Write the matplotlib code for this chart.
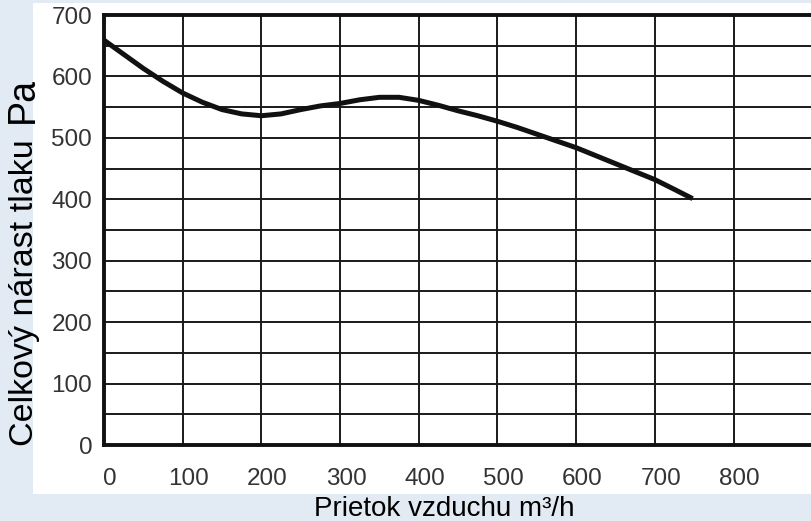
import matplotlib
matplotlib.use("Agg")
import matplotlib.pyplot as plt
import matplotlib.transforms as mtransforms
from matplotlib.patches import Rectangle

# curve: air flow (m3/h) vs total pressure rise (Pa)
flow = [0, 25, 50, 75, 100, 125, 150, 175, 200, 225, 250, 275, 300, 325,
        350, 375, 400, 425, 450, 475, 500, 525, 550, 575, 600, 625, 650,
        675, 700, 725, 748]
pressure = [659, 636, 613, 592, 573, 558, 546, 539, 536, 539, 546, 552,
            556, 562, 566, 566, 561, 553, 544, 536, 527, 517, 506, 495,
            484, 471, 458, 445, 432, 416, 401]

x_ticks = [0, 100, 200, 300, 400, 500, 600, 700, 800]
y_ticks = [0, 100, 200, 300, 400, 500, 600, 700]
x_grid = [100, 200, 300, 400, 500, 600, 700, 800, 900]
y_grid = [50, 100, 150, 200, 250, 300, 350, 400, 450, 500, 550, 600, 650]

W, H = 811, 521
plt.rcParams['font.family'] = ['Liberation Sans', 'DejaVu Sans']

fig = plt.figure(figsize=(W / 100, H / 100), dpi=100, facecolor='#e2eaf4')
# white panel behind the chart
fig.patches.append(Rectangle((33 / W, (H - 494) / H), 1, (494 - 3) / H,
                             transform=fig.transFigure, facecolor='white',
                             edgecolor='none', zorder=-10))

ax = fig.add_axes([104 / W, (H - 445) / H, 724 / W, 430 / H])
ax.set_facecolor('white')
ax.set_xlim(0, 920)
ax.set_ylim(0, 700)

for gx in x_grid:
    ax.axvline(gx, color='#1a1a1a', lw=1.4, zorder=1)
for gy in y_grid:
    ax.axhline(gy, color='#1a1a1a', lw=1.4, zorder=1)

ax.plot(flow, pressure, color='#111111', lw=3.6, solid_capstyle='butt',
        zorder=3)

for side in ['left', 'bottom', 'top']:
    ax.spines[side].set_linewidth(2.8)
    ax.spines[side].set_color('#111111')
ax.spines['right'].set_visible(False)

ax.set_xticks(x_ticks)
ax.set_yticks(y_ticks)
ax.tick_params(length=0, labelsize=17.5, labelcolor='#333333')
ax.tick_params(axis='x', pad=16.5)
ax.tick_params(axis='y', pad=8.5)
shift = mtransforms.ScaledTranslation(6 / 100, 0, fig.dpi_scale_trans)
for lbl in ax.get_xticklabels():
    lbl.set_transform(lbl.get_transform() + shift)

fig.text(444 / W, (H - 516) / H, 'Prietok vzduchu m³/h', ha='center',
         va='baseline', fontsize=20, color='black')
fig.text(33 / W, (H - 293) / H, 'Celkový nárast tlaku', rotation=90,
         rotation_mode='anchor', ha='center', va='baseline', fontsize=24.5,
         color='black')
fig.text(33 / W, (H - 100) / H, 'Pa', rotation=90, rotation_mode='anchor',
         ha='center', va='baseline', fontsize=27, color='black')

fig.savefig('out.png', dpi=100, facecolor=fig.get_facecolor())
